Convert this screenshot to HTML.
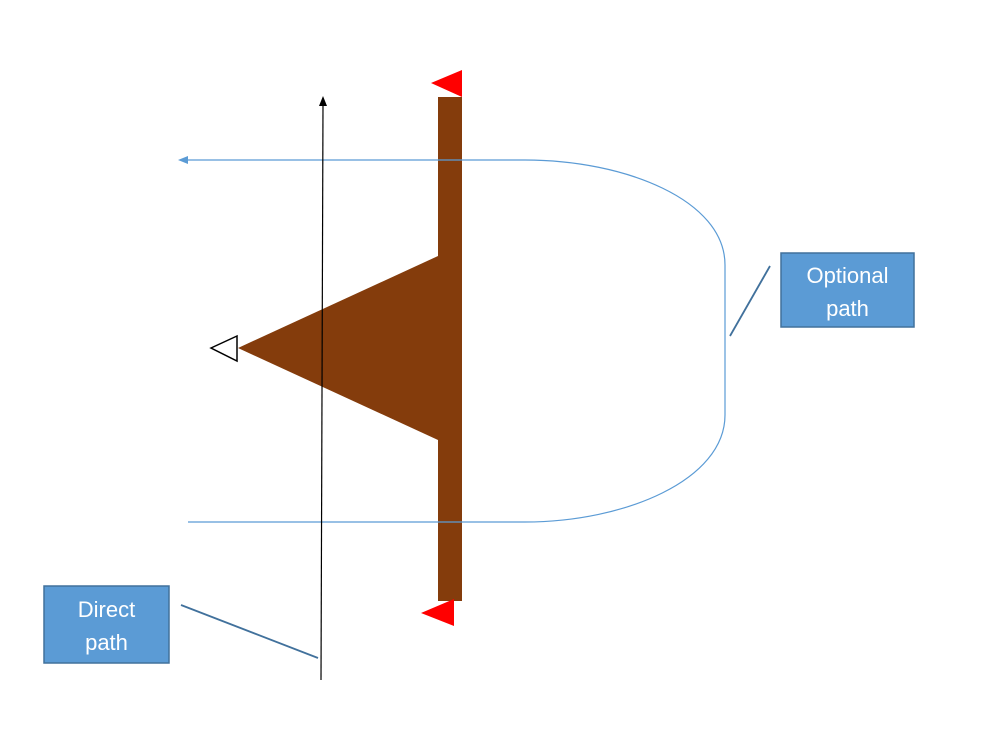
<!DOCTYPE html>
<html><head><meta charset="utf-8"><style>
html,body{margin:0;padding:0;background:#fff;}
svg{display:block;}
</style></head><body>
<svg width="989" height="755" viewBox="0 0 989 755" xmlns="http://www.w3.org/2000/svg">
<rect width="989" height="755" fill="#fff"/>
<!-- brown bar and triangle -->
<rect x="438" y="97" width="24" height="504" fill="#843c0c"/>
<polygon points="438,256 238,348 438,440" fill="#843c0c"/>
<!-- blue optional path -->
<path d="M186,160 L525,160 C625,160 725,200 725,265 L725,415 C725,480 625,522 525,522 L188,522" fill="none" stroke="#5b9bd5" stroke-width="1.2"/>
<polygon points="178,160 188,156 188,164" fill="#5b9bd5"/>
<!-- red flags -->
<polygon points="431,83 462,70 462,97" fill="#f00"/>
<polygon points="421,613 454,599 454,626" fill="#f00"/>
<!-- open triangle -->
<polygon points="211,348 237,336 237,361" fill="#fff" stroke="#000" stroke-width="1.5"/>
<!-- black vertical arrow -->
<line x1="321" y1="680" x2="323" y2="104" stroke="#000" stroke-width="1.2"/>
<polygon points="323,96 319,106 327,106" fill="#000"/>
<!-- callout lines -->
<line x1="770" y1="266" x2="730" y2="336" stroke="#41719c" stroke-width="1.8"/>
<line x1="181" y1="605" x2="318" y2="658" stroke="#41719c" stroke-width="1.8"/>
<!-- boxes -->
<rect x="781" y="253" width="133" height="74" fill="#5b9bd5" stroke="#41719c" stroke-width="1.5"/>
<text x="847.5" y="283" font-family="Liberation Sans, sans-serif" font-size="22" fill="#fff" text-anchor="middle">Optional</text>
<text x="847.5" y="316" font-family="Liberation Sans, sans-serif" font-size="22" fill="#fff" text-anchor="middle">path</text>
<rect x="44" y="586" width="125" height="77" fill="#5b9bd5" stroke="#41719c" stroke-width="1.5"/>
<text x="106.5" y="617" font-family="Liberation Sans, sans-serif" font-size="22" fill="#fff" text-anchor="middle">Direct</text>
<text x="106.5" y="650" font-family="Liberation Sans, sans-serif" font-size="22" fill="#fff" text-anchor="middle">path</text>
</svg>
</body></html>
